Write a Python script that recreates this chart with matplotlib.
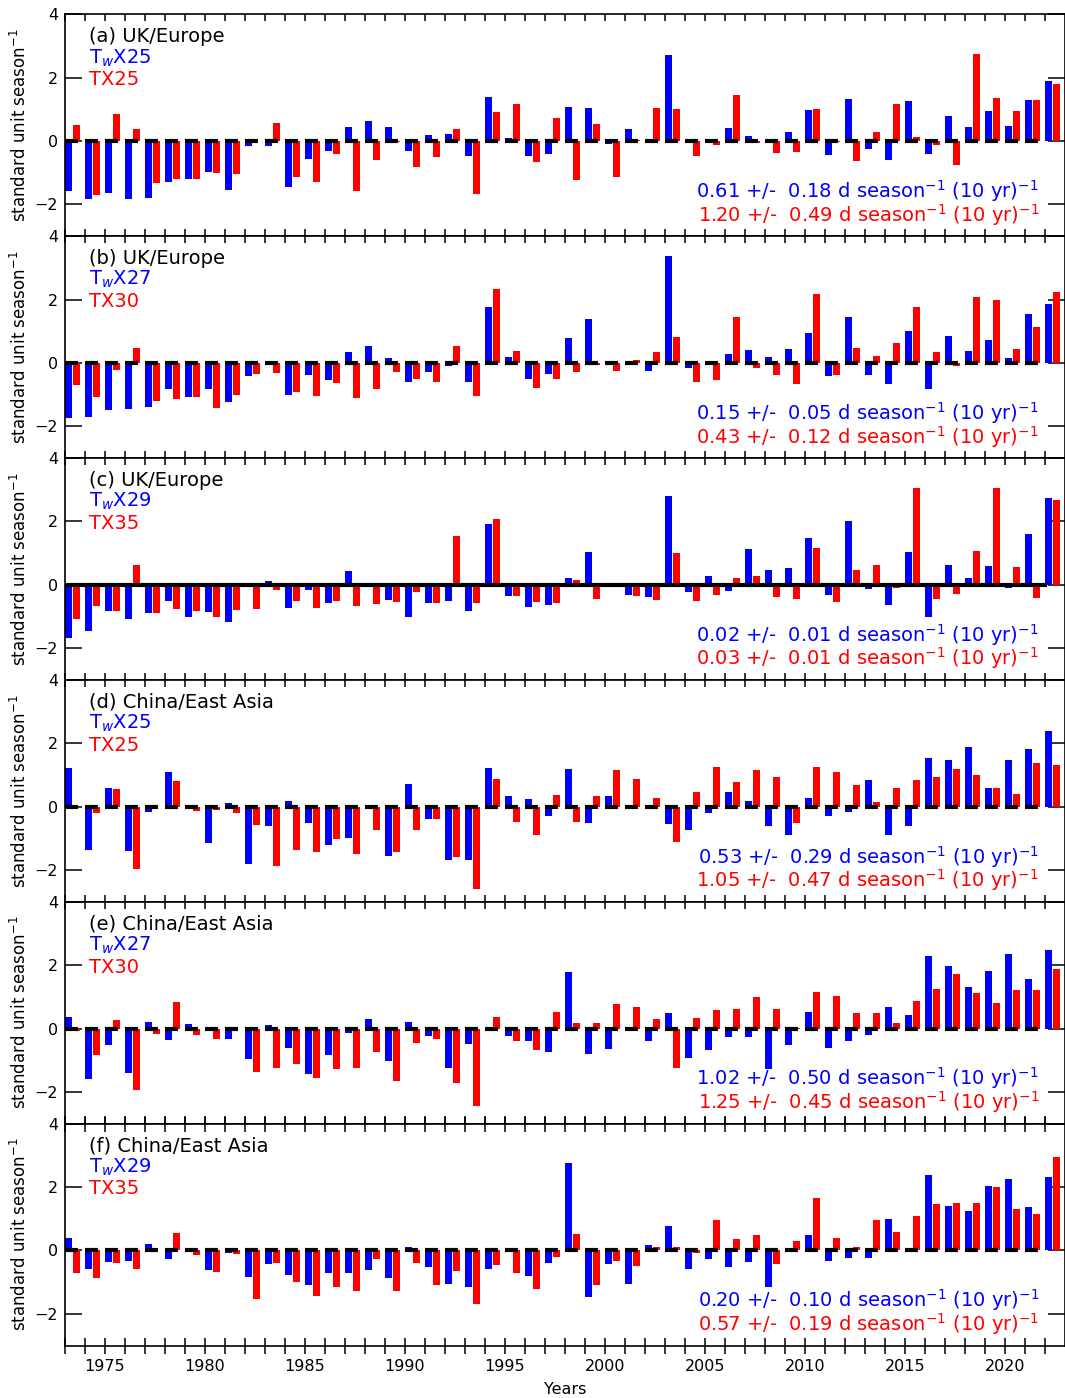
import numpy as np
import matplotlib
matplotlib.use("Agg")
import matplotlib.pyplot as plt

years = np.arange(1973, 2023)

tw_a = [-1.56, -1.84, -1.63, -1.84, -1.79, -1.28, -1.21, -0.97, -1.54, -0.14,
        -0.14, -1.44, -0.56, -0.31, 0.43, 0.63, 0.43, -0.31, 0.19, 0.22,
        -0.46, 1.39, 0.09, -0.46, -0.40, 1.07, 1.04, -0.08, 0.38, 0.0,
        2.73, -0.01, -0.04, 0.41, 0.16, 0.06, 0.28, 0.98, -0.43, 1.34,
        -0.24, -0.59, 1.26, -0.40, 0.79, 0.44, 0.95, 0.47, 1.29, 1.89]
tx_a = [0.51, -1.69, 0.85, 0.37, -1.32, -1.19, -1.19, -1.00, -1.03, 0.0,
        0.56, -1.13, -1.28, -0.40, -1.56, -0.59, -0.02, -0.81, -0.49, 0.38,
        -1.66, 0.92, 1.17, -0.67, 0.73, -1.22, 0.54, -1.13, 0.02, 1.05,
        1.01, -0.46, -0.11, 1.45, -0.07, -0.37, -0.34, 1.01, -0.02, -0.62,
        0.28, 1.17, 0.13, -0.11, -0.75, 2.75, 1.36, 0.95, 1.29, 1.80]

tw_b = [-1.74, -1.71, -1.49, -1.46, -1.40, -0.83, -1.08, -0.83, -1.24, -0.42,
        0.05, -1.02, -0.39, -0.55, 0.33, 0.55, 0.17, -0.61, -0.29, -0.11,
        -0.61, 1.78, 0.20, -0.52, -0.36, 0.80, 1.40, 0.02, 0.0, -0.26,
        3.39, -0.17, 0.06, 0.29, 0.42, 0.20, 0.45, 0.96, -0.42, 1.46,
        -0.39, -0.67, 1.02, -0.83, 0.86, 0.39, 0.71, 0.17, 1.53, 1.87]
tx_b = [-0.71, -1.08, -0.23, 0.48, -1.21, -1.15, -1.08, -1.43, -1.02, -0.36,
        -0.33, -0.93, -1.05, -0.64, -1.12, -0.83, -0.29, -0.52, -0.61, 0.52,
        -1.05, 2.34, 0.39, -0.80, -0.52, -0.29, -0.06, -0.26, 0.09, 0.33,
        0.83, -0.61, -0.55, 1.46, -0.17, -0.39, -0.67, 2.19, -0.39, 0.48,
        0.23, 0.64, 1.75, 0.33, -0.11, 2.09, 2.00, 0.45, 1.12, 2.25]

tw_c = [-1.68, -1.46, -0.83, -1.08, -0.89, -0.52, -1.02, -0.86, -1.18, 0.01,
        0.11, -0.74, -0.16, -0.58, 0.45, -0.07, -0.48, -1.02, -0.58, -0.52,
        -0.83, 1.91, -0.36, -0.71, -0.64, 0.20, 1.02, 0.0, -0.33, -0.39,
        2.79, -0.23, 0.29, -0.20, 1.12, 0.48, 0.52, 1.49, -0.33, 2.00,
        -0.14, -0.64, 1.05, -1.02, 0.64, 0.20, 0.58, -0.09, 1.59, 2.73]
tx_c = [-1.08, -0.67, -0.83, 0.61, -0.89, -0.77, -0.83, -1.02, -0.80, -0.77,
        -0.16, -0.52, -0.74, -0.52, -0.67, -0.61, -0.55, -0.23, -0.58, 1.53,
        -0.58, 2.09, -0.36, -0.55, -0.58, 0.14, -0.45, 0.0, -0.36, -0.48,
        0.99, -0.52, -0.33, 0.23, 0.29, -0.39, -0.45, 1.15, -0.55, 0.48,
        0.64, -0.09, 3.07, -0.45, -0.29, 1.08, 3.07, 0.55, -0.42, 2.69]

tw_d = [1.21, -1.37, 0.58, -1.40, -0.17, 1.08, -0.07, -1.15, 0.11, -1.81,
        -0.61, 0.17, -0.52, -1.21, -0.99, 0.0, -1.56, 0.71, -0.39, -1.68,
        -1.68, 1.21, 0.33, 0.23, -0.29, 1.18, -0.52, 0.33, 0.0, 0.0,
        -0.55, -0.74, -0.20, 0.45, 0.17, -0.61, -0.89, 0.26, -0.29, -0.17,
        0.83, -0.89, -0.61, 1.53, 1.46, 1.87, 0.58, 1.46, 1.81, 2.38]
tx_d = [0.0, -0.20, 0.55, -1.97, 0.0, 0.80, -0.14, -0.11, -0.20, -0.58,
        -1.87, -1.37, -1.43, -1.02, -1.49, -0.74, -1.43, -0.74, -0.39, -1.59,
        -2.60, 0.86, -0.48, -0.89, 0.36, -0.48, 0.33, 1.15, 0.86, 0.26,
        -1.12, 0.45, 1.24, 0.77, 1.15, 0.93, -0.52, 1.24, 1.08, 0.67,
        0.14, 0.58, 0.83, 0.93, 1.18, 0.99, 0.58, 0.39, 1.37, 1.31]

tw_e = [0.36, -1.58, -0.52, -1.40, 0.20, -0.36, 0.14, 0.0, -0.33, -0.96,
        0.11, -0.61, -1.43, -0.83, -0.14, 0.29, -1.02, 0.20, -0.23, -1.24,
        -0.48, 0.06, -0.23, -0.39, -0.74, 1.78, -0.80, -0.64, 0.0, -0.39,
        0.48, -0.93, -0.67, -0.26, -0.26, -1.27, -0.52, 0.52, -0.61, -0.39,
        -0.20, 0.67, 0.42, 2.28, 1.97, 1.31, 1.81, 2.35, 1.56, 2.47]
tx_e = [-0.07, -0.83, 0.26, -1.94, -0.17, 0.83, -0.20, -0.33, -0.02, -1.37,
        -1.24, -1.12, -1.56, -1.27, -1.24, -0.74, -1.65, -0.45, -0.33, -1.72,
        -2.44, 0.36, -0.39, -0.67, 0.52, 0.17, 0.17, 0.77, 0.67, 0.29,
        -1.24, 0.33, 0.58, 0.61, 0.99, 0.61, 0.02, 1.15, 1.02, 0.48,
        0.48, 0.17, 0.86, 1.24, 1.72, 1.12, 0.80, 1.21, 1.21, 1.87]

tw_f = [0.39, -0.58, -0.36, -0.33, 0.20, -0.26, 0.07, -0.61, -0.07, -0.83,
        -0.42, -0.77, -1.08, -0.71, -0.71, -0.61, -0.86, 0.11, -0.52, -1.05,
        -1.15, -0.58, 0.0, -0.80, -0.39, 2.76, -1.46, -0.42, -1.05, 0.17,
        0.77, -0.58, -0.26, -0.52, -0.36, -1.15, 0.0, 0.48, -0.33, -0.23,
        -0.23, 0.99, 0.0, 2.38, 1.40, 1.24, 2.03, 2.25, 1.37, 2.32]
tx_f = [-0.71, -0.86, -0.39, -0.58, 0.02, 0.55, -0.14, -0.67, -0.11, -1.53,
        -0.39, -0.99, -1.43, -1.15, -1.27, -0.26, -1.27, -0.39, -1.08, -0.64,
        -1.68, -0.45, -0.71, -1.21, -0.20, 0.52, -1.08, -0.33, -0.48, 0.11,
        0.11, -0.07, 0.96, 0.36, 0.48, -0.42, 0.29, 1.65, 0.39, 0.11,
        0.96, 0.58, 1.08, 1.46, 1.49, 1.49, 2.00, 1.31, 1.15, 2.95]

panel_titles = ["(a) UK/Europe", "(b) UK/Europe", "(c) UK/Europe",
                "(d) China/East Asia", "(e) China/East Asia", "(f) China/East Asia"]
tw_names = ["T$_w$X25", "T$_w$X27", "T$_w$X29", "T$_w$X25", "T$_w$X27", "T$_w$X29"]
tx_names = ["TX25", "TX30", "TX35", "TX25", "TX30", "TX35"]
tw_trend = [("0.61", "0.18"), ("0.15", "0.05"), ("0.02", "0.01"),
            ("0.53", "0.29"), ("1.02", "0.50"), ("0.20", "0.10")]
tx_trend = [("1.20", "0.49"), ("0.43", "0.12"), ("0.03", "0.01"),
            ("1.05", "0.47"), ("1.25", "0.45"), ("0.57", "0.19")]
yticks = [-2, 0, 2, 4]
xtick_years = list(range(1973, 2023))

tw_all = [tw_a, tw_b, tw_c, tw_d, tw_e, tw_f]
tx_all = [tx_a, tx_b, tx_c, tx_d, tx_e, tx_f]

W, H = 1065, 1398
fig = plt.figure(figsize=(W / 100, H / 100), dpi=100)
left = 65 / W
width = 1000 / W
top = 1 - 14.3 / H
bot = 1 - 1345.5 / H
ph = (top - bot) / 6

for i in range(6):
    ax = fig.add_axes([left, top - (i + 1) * ph, width, ph])
    ax.bar(years + 0.02, tw_all[i], width=0.35, align='edge', color='#0000ff', lw=0, zorder=2)
    ax.bar(years + 0.40, tx_all[i], width=0.35, align='edge', color='#ff0000', lw=0, zorder=2)
    if i == 2:
        ax.plot([1973, 2022], [0, 0], color='black', lw=3, zorder=3)
    else:
        ax.plot([1973, 2022], [0, 0], color='black', lw=3, ls=(0, (3.1, 1.7)), zorder=3)
    ax.set_xlim(1973, 2023)
    ax.set_ylim(-3, 4)
    ax.set_yticks(yticks)
    ax.set_yticklabels([str(v).replace('-', '\u2212') for v in yticks])
    ax.tick_params(axis='y', direction='in', length=12, width=1.1, left=True, right=True,
                   labelsize=11.5, pad=5)
    ax.set_xticks(xtick_years)
    if i == 5:
        ax.set_xticklabels([str(y) if y % 5 == 0 else '' for y in xtick_years])
        ax.tick_params(axis='x', direction='inout', length=11.5, width=1.1, top=True,
                       bottom=True, labelsize=11.5, pad=4)
        ax.set_xlabel("Years", fontsize=11.5, labelpad=6)
    else:
        ax.tick_params(axis='x', direction='in', length=5, width=1.1, top=True,
                       bottom=True, labelbottom=False)
    for sp in ax.spines.values():
        sp.set_linewidth(1.2)
    ax.set_ylabel("standard unit season$^{-1}$", fontsize=12)
    ax.yaxis.set_label_coords(-0.035, 0.5)

    ax.text(0.024, 0.874, panel_titles[i], transform=ax.transAxes, fontsize=14,
            color='black', va='baseline', ha='left')
    ax.text(0.024, 0.779, tw_names[i], transform=ax.transAxes, fontsize=14,
            color='#0000ff', va='baseline', ha='left')
    ax.text(0.024, 0.681, tx_names[i], transform=ax.transAxes, fontsize=14,
            color='#ff0000', va='baseline', ha='left')
    a, b = tw_trend[i]
    ax.text(0.974, 0.173, f"{a} +/-  {b} d season$^{{-1}}$ (10 yr)$^{{-1}}$",
            transform=ax.transAxes, fontsize=14, color='#0000ff', va='baseline', ha='right')
    a, b = tx_trend[i]
    ax.text(0.974, 0.066, f"{a} +/-  {b} d season$^{{-1}}$ (10 yr)$^{{-1}}$",
            transform=ax.transAxes, fontsize=14, color='#ff0000', va='baseline', ha='right')

fig.savefig("out.png", dpi=100)
